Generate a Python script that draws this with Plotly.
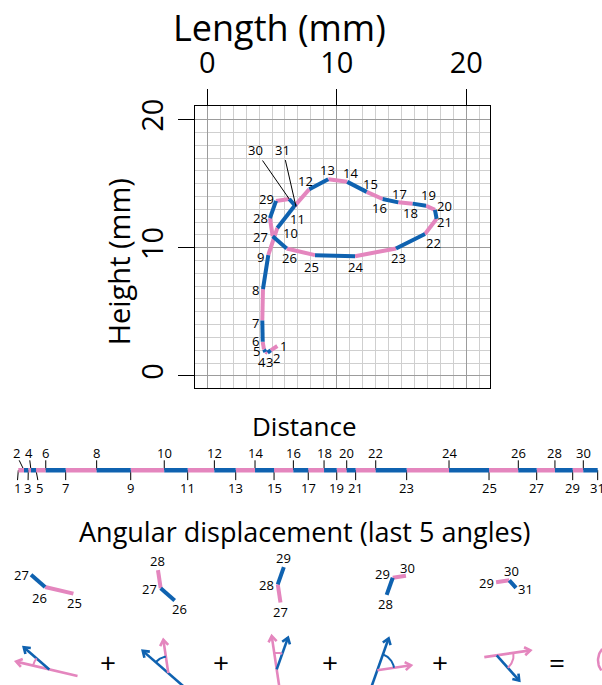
import numpy as np
import plotly.graph_objects as go

W, H = 602, 685
PX_PER_MM = 12.95
BLUE = "#0f62b0"
PINK = "#e486be"
FONT = "Open Sans"

# ---------------- data ----------------
point_ids = list(range(1, 32))
x_mm = [5.41, 4.90, 4.66, 4.49, 4.38, 4.28, 4.25, 4.30, 4.71, 5.41, 6.70, 7.88, 9.34, 10.81, 12.31,
        13.54, 14.75, 15.86, 16.89, 17.58, 17.71, 16.81, 14.57, 11.41, 8.32, 6.13, 5.05, 4.84,
        5.31, 6.33, 6.85]
y_mm = [2.33, 1.99, 1.81, 1.87, 2.06, 2.66, 4.32, 6.77, 9.42, 11.54, 13.21, 14.57, 15.34, 15.14,
        14.36, 13.80, 13.54, 13.44, 13.28, 12.95, 12.26, 11.07, 9.94, 9.34, 9.42, 9.94, 10.89,
        12.31, 13.65, 13.80, 13.21]
cum_dist_mm = [0.00, 0.44, 0.77, 0.98, 1.37, 2.12, 3.66, 6.05, 8.68, 11.27, 13.08, 15.14, 16.79,
               18.28, 19.75, 21.24, 22.39, 23.61, 24.59, 25.36, 26.05, 27.60, 29.99, 33.26,
               36.35, 38.61, 40.03, 41.44, 42.81, 43.63, 44.74]
axis_ticks = [0, 10, 20]
angle_start_ids = [25, 26, 27, 28, 29]   # first point of each of the last 5 angles

# ---------------- layout constants (pixels / styles) ----------------
label_off = {  # (dx, dy) in px, dy downward
    1: (6, 0), 2: (6, 8), 3: (2, 9), 4: (-3, 10), 5: (-7, 2), 6: (-7, -1), 7: (-7, 2), 8: (-7, 1),
    9: (-8, 2), 10: (13, 5), 11: (3, 12), 12: (-4, -8), 13: (-1, -9), 14: (3, -9), 15: (4, -8),
    16: (-3, 9), 17: (1, -8), 18: (-2, 9), 19: (2, -11), 20: (10, -4), 21: (8, 3), 22: (9, 9),
    23: (3, 10), 24: (0, 11), 25: (-4, 12), 26: (3, 10), 27: (-12, 1), 28: (-9, 0), 29: (-10, -2)}
leader_off = {30: (-34, -49), 31: (-13, -57)}
dist_label_dx = {1: -1.3, 2: -8, 3: -0.3, 4: -2, 5: 3}
pict_shift = [(-18.66, -26.41), (-8.65, -27.46), (0.60, -28.57), (9.01, -29.40), (16.99, -29.75)]
pict_label_off = [
    [(1, 9), (-6, 11), (-10, 0)],
    [(5, 9), (-11, 1), (0, -9)],
    [(0, 9), (-11, 1), (0, -9)],
    [(-1, 9), (-10, -4), (2, -8)],
    [(-10, 1), (2, -9), (9, 1)]]
vertices = [(-12.20, -22.90), (-3.01, -23.19), (5.36, -22.90), (13.13, -22.96), (22.35, -21.80)]
tails = [2.24, 2.6, 2.6, 2.6, 0.97]
ARROW_LEN = 2.63
ARC_R = 1.3


def seg_color(pid):
    return PINK if pid % 2 == 1 else BLUE


def pxx(x):
    return x / W


def pxy(y):
    return 1 - y / H


fig = go.Figure()


def add_path(xs, ys, ids, xa, ya, width):
    for color in (PINK, BLUE):
        sx, sy = [], []
        for k in range(len(ids) - 1):
            if seg_color(ids[k]) == color:
                sx += [xs[k], xs[k + 1], None]
                sy += [ys[k], ys[k + 1], None]
        fig.add_trace(go.Scatter(x=sx, y=sy, mode="lines", line=dict(color=color, width=width),
                                 xaxis=xa, yaxis=ya, hoverinfo="skip", showlegend=False))


annotations = []


def label(x, y, xref, yref, text, size=13, **kw):
    d = dict(x=x, y=y, xref=xref, yref=yref, text=text, showarrow=False,
             xanchor="center", yanchor="middle", font=dict(size=size, color="black", family=FONT))
    d.update(kw)
    annotations.append(d)


# ---------------- main trajectory ----------------
add_path(x_mm, y_mm, point_ids, "x", "y", 4)
for pid in point_ids:
    xi, yi = x_mm[pid - 1], y_mm[pid - 1]
    if pid in leader_off:
        ax, ay = leader_off[pid]
        annotations.append(dict(x=xi, y=yi, xref="x", yref="y", text=str(pid), showarrow=True,
                                arrowhead=0, arrowwidth=1, arrowcolor="black", ax=ax, ay=ay,
                                standoff=0, font=dict(size=13, color="black", family=FONT)))
    else:
        dx, dy = label_off[pid]
        label(xi, yi, "x", "y", str(pid), xshift=dx, yshift=-dy)

# ---------------- distance bar ----------------
tx, ty = [], []
for pid in point_ids:
    d = cum_dist_mm[pid - 1]
    s = 1 if pid % 2 == 0 else -1
    dx = dist_label_dx.get(pid, 0) / PX_PER_MM
    tx += [d, d + 0.6 * dx, None]
    ty += [0, s * 10, None]
    label(d + dx, s * 17.5, "x2", "y2", str(pid))
fig.add_trace(go.Scatter(x=tx, y=ty, mode="lines", line=dict(color="black", width=1),
                         xaxis="x2", yaxis="y2", hoverinfo="skip", showlegend=False))
add_path(cum_dist_mm, [0] * len(cum_dist_mm), point_ids, "x2", "y2", 4.5)

# ---------------- angle pictograms ----------------
P = np.array([x_mm, y_mm]).T
for k, pid in enumerate(angle_start_ids):
    ids = [pid, pid + 1, pid + 2]
    sx_, sy_ = pict_shift[k]
    xs = [x_mm[i - 1] + sx_ for i in ids]
    ys = [y_mm[i - 1] + sy_ for i in ids]
    add_path(xs, ys, ids, "x3", "y3", 4)
    for j, i in enumerate(ids):
        dx, dy = pict_label_off[k][j]
        label(xs[j], ys[j], "x3", "y3", str(i), xshift=dx, yshift=-dy)


def rot(v, a):
    c, s = np.cos(a), np.sin(a)
    return np.array([c * v[0] - s * v[1], s * v[0] + c * v[1]])


def arrow_trace(start, tip, u, color):
    head = 0.55
    a1 = tip + head * rot(-u, np.radians(35))
    a2 = tip + head * rot(-u, np.radians(-35))
    xs = [start[0], tip[0], None, a1[0], tip[0], a2[0]]
    ys = [start[1], tip[1], None, a1[1], tip[1], a2[1]]
    fig.add_trace(go.Scatter(x=xs, y=ys, mode="lines", line=dict(color=color, width=2.6),
                             xaxis="x3", yaxis="y3", hoverinfo="skip", showlegend=False))


for k, pid in enumerate(angle_start_ids):
    i = pid - 1
    u1 = P[i + 1] - P[i]
    u1 = u1 / np.linalg.norm(u1)
    u2 = P[i + 2] - P[i + 1]
    u2 = u2 / np.linalg.norm(u2)
    V = np.array(vertices[k])
    c1, c2 = seg_color(pid), seg_color(pid + 1)
    arrow_trace(V - tails[k] * u1, V + ARROW_LEN * u1, u1, c1)
    arrow_trace(V, V + ARROW_LEN * u2, u2, c2)
    t1 = np.arctan2(u1[1], u1[0])
    t2 = np.arctan2(u2[1], u2[0])
    d = (t2 - t1 + np.pi) % (2 * np.pi) - np.pi
    t = np.linspace(t1, t1 + d, 24)
    fig.add_trace(go.Scatter(x=V[0] + ARC_R * np.cos(t), y=V[1] + ARC_R * np.sin(t), mode="lines",
                             line=dict(color=c1, width=2), xaxis="x3", yaxis="y3",
                             hoverinfo="skip", showlegend=False))

# partially visible sum diagram at the right edge
t = np.linspace(np.radians(140), np.radians(215), 20)
fig.add_trace(go.Scatter(x=31.56 + 1.39 * np.cos(t), y=-22.19 + 1.39 * np.sin(t), mode="lines",
                         line=dict(color=PINK, width=2.5), xaxis="x3", yaxis="y3",
                         hoverinfo="skip", showlegend=False))

# operators
for xpx, sym in [(108, "+"), (221, "+"), (330, "+"), (440, "+"), (557, "=")]:
    label(pxx(xpx), pxy(662), "paper", "paper", sym, size=28)

# titles
label(pxx(279), pxy(21), "paper", "paper", "Length (mm)", size=36)
label(pxx(118), pxy(258), "paper", "paper", "Height (mm)", size=29, textangle=-90)
label(pxx(304), pxy(423), "paper", "paper", "Distance", size=26)
label(pxx(304), pxy(530), "paper", "paper", "Angular displacement (last 5 angles)", size=27)

grid_major = "#9c9c9c"
grid_minor = "#cfcfcf"
common = dict(showline=True, mirror=True, linecolor="black", linewidth=1, zeroline=False,
              tickvals=axis_ticks, ticks="outside", ticklen=16, tickwidth=1, tickcolor="black",
              tickfont=dict(size=29, color="black", family=FONT), showgrid=True,
              gridcolor=grid_major, gridwidth=1,
              minor=dict(dtick=1, showgrid=True, gridcolor=grid_minor, gridwidth=1, ticks=""))

hidden = dict(visible=False, showgrid=False, zeroline=False, fixedrange=True)

fig.update_layout(
    width=W, height=H, margin=dict(l=0, r=0, t=0, b=0),
    paper_bgcolor="white", plot_bgcolor="rgba(0,0,0,0)",
    font=dict(family=FONT, color="black"),
    xaxis=dict(domain=[194.7 / W, 490 / W], range=[-0.97, 21.83], side="top", anchor="y",
               ticklabelstandoff=4, **common),
    yaxis=dict(domain=[pxy(385), pxy(100)], range=[-0.95, 21.06], anchor="x", tickangle=-90,
               ticklabelstandoff=3, **common),
    xaxis2=dict(domain=[0, 1], range=[-18.3 / PX_PER_MM, (W - 18.3) / PX_PER_MM], anchor="y2", **hidden),
    yaxis2=dict(domain=[pxy(498), pxy(438)], range=[-30, 30], anchor="x2", **hidden),
    xaxis3=dict(domain=[0, 1], range=[-207.3 / PX_PER_MM, (W - 207.3) / PX_PER_MM], anchor="y3", **hidden),
    yaxis3=dict(domain=[0, 1], range=[(372.7 - H) / PX_PER_MM, 372.7 / PX_PER_MM], anchor="x3", **hidden),
    annotations=annotations,
    showlegend=False,
)

fig.write_html("out.html")
